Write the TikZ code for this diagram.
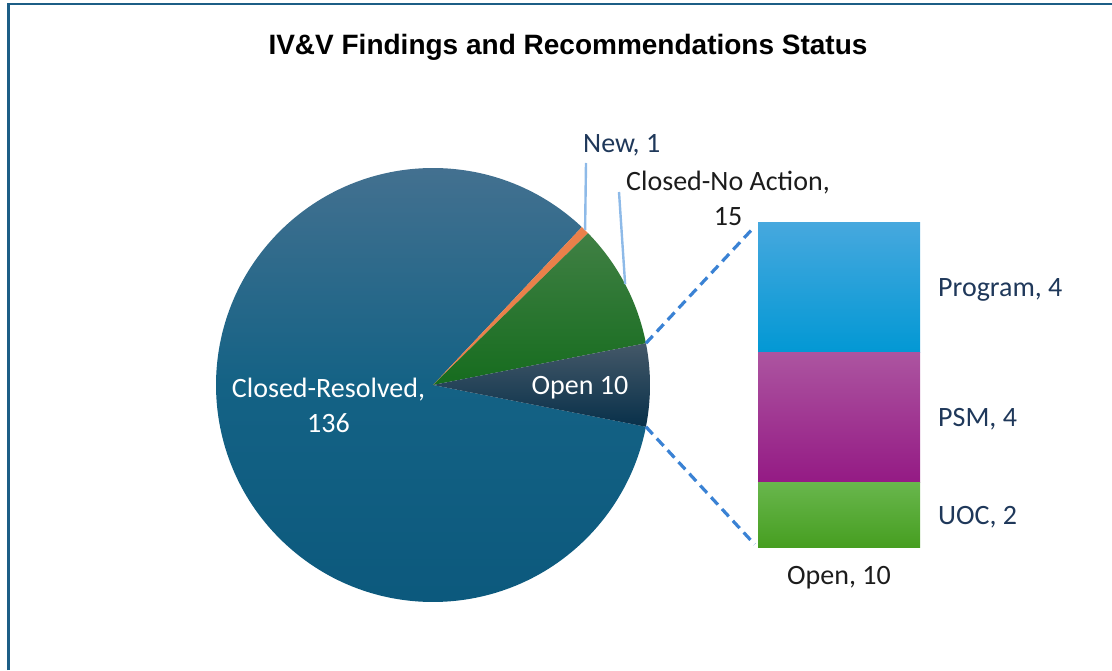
\documentclass[tikz,border=0pt]{standalone}
\usepackage{fontspec}
\setmainfont{Carlito}
\newfontfamily\titlefont{Liberation Sans}
\usepackage{xcolor}
\usepackage{tikz}
\usetikzlibrary{calc}
\definecolor{frameblue}{RGB}{28,94,134}
\definecolor{resolvedtop}{RGB}{72,114,145}
\definecolor{resolvedmid}{RGB}{20,98,133}
\definecolor{resolvedbot}{RGB}{11,88,124}
\definecolor{noactiontop}{RGB}{64,128,68}
\definecolor{noactionbot}{RGB}{22,108,30}
\definecolor{newcolor}{RGB}{234,128,74}
\definecolor{opentop}{RGB}{68,88,104}
\definecolor{openbot}{RGB}{8,48,74}
\definecolor{programtop}{RGB}{70,168,222}
\definecolor{programbot}{RGB}{2,152,212}
\definecolor{psmtop}{RGB}{172,84,160}
\definecolor{psmbot}{RGB}{148,26,132}
\definecolor{uoctop}{RGB}{104,182,76}
\definecolor{uocbot}{RGB}{70,158,32}
\definecolor{labelnavy}{RGB}{31,56,90}
\definecolor{labeldark}{RGB}{28,28,28}
\definecolor{leaderblue}{RGB}{142,186,232}
\definecolor{dashblue}{RGB}{58,130,212}

\begin{document}
\begin{tikzpicture}[x=1pt, y=1pt,
	lbl/.style={font=\fontsize{28}{35}\selectfont, inner sep=0pt, text=labelnavy},
	seg/.style={rectangle, inner sep=0pt, outer sep=0pt, minimum width=162pt},
	leader/.style={draw=leaderblue, line width=2.4pt},
	zoomline/.style={draw=dashblue, line width=3.2pt, dash pattern=on 10pt off 6pt, shorten >=5pt}]
	\useasboundingbox (0,0) rectangle (1112,670);
	\draw[frameblue, line width=2.5pt] (8.5,0) -- (8.5,666) -- (1112,666);
	\node[font=\titlefont\bfseries\fontsize{28}{34}\selectfont, anchor=base, inner sep=0pt] (title) at (568,615) {IV\&V Findings and Recommendations Status};

	% pie
	\coordinate (c) at (433,285);
	\shade[top color=resolvedtop, bottom color=resolvedbot, middle color=resolvedmid] (c) -- ++(46.7:217) arc (46.7:348.9:217) -- cycle;
	\fill[newcolor] (c) -- ++(44.4:217) arc (44.4:46.7:217) -- cycle;
	\shade[top color=noactiontop, bottom color=noactionbot] (c) -- ++(11.1:217) arc (11.1:44.4:217) -- cycle;
	\shade[top color=opentop, bottom color=openbot] (c) -- ++(-11.1:217) arc (-11.1:11.1:217) -- cycle;

	\node[lbl, text=white, align=center, anchor=base] (resolved) at (328.5,237) {Closed-Resolved,\\136};
	\node[lbl, text=white, anchor=base] (open) at (580,275) {Open 10};
	\node[lbl, anchor=base west] (new) at (583,517) {New, 1};
	\node[lbl, text=labeldark, align=center, anchor=base] (noaction) at (728,444) {Closed-No Action,\\15};

	\coordinate (newtip) at ($(c)+(45.5:217)$);
	\coordinate (newfoot) at (586,507);
	\coordinate (noactiontip) at ($(c)+(27.7:217)$);
	\coordinate (noactionfoot) at (619,478);
	\draw[leader] (newfoot) -- (newtip);
	\draw[leader] (noactionfoot) -- (noactiontip);

	% open breakdown
	\node[seg, minimum height=130pt, top color=programtop, bottom color=programbot] (program) at (839,382) {};
	\node[seg, minimum height=130pt, top color=psmtop, bottom color=psmbot] (psm) at (839,252) {};
	\node[seg, minimum height=65pt, top color=uoctop, bottom color=uocbot] (uoc) at (839,154.5) {};
	\node[lbl, anchor=base west] (programlbl) at (938,373) {Program, 4};
	\node[lbl, anchor=base west] (psmlbl) at (938,243) {PSM, 4};
	\node[lbl, anchor=base west] (uoclbl) at (938,145) {UOC, 2};
	\node[lbl, text=labeldark, anchor=base] (openlbl) at (839,85) {Open, 10};

	\coordinate (openhi) at ($(c)+(11.1:217)$);
	\coordinate (openlo) at ($(c)+(-11.1:217)$);
	\draw[zoomline] (openhi) -- (program.north west);
	\draw[zoomline] (openlo) -- (uoc.south west);
\end{tikzpicture}
\end{document}
